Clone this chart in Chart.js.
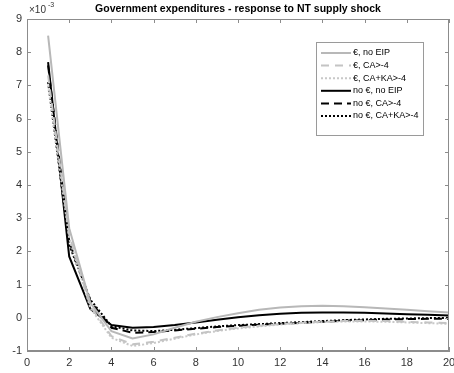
<!DOCTYPE html>
<html>
<head>
<meta charset="utf-8">
<script src="https://cdn.jsdelivr.net/npm/chart.js@4.4.0/dist/chart.umd.min.js"></script>
<style>
  html, body { margin: 0; padding: 0; background: #fff; }
  #wrap { width: 454px; height: 373px; }
</style>
</head>
<body>
<div id="wrap"><canvas id="c" width="454" height="373"></canvas></div>
<script>
// Government expenditures response (x 1e-3), periods 1..20
const periods = [1,2,3,4,5,6,7,8,9,10,11,12,13,14,15,16,17,18,19,20];

const euroNoEip   = [8.5, 2.7, 0.45, -0.4, -0.62, -0.5, -0.3, -0.12, 0.02, 0.14, 0.24, 0.31, 0.35, 0.36, 0.35, 0.32, 0.28, 0.24, 0.2, 0.16];
const euroCa      = [7.3, 2.5, 0.35, -0.55, -0.8, -0.72, -0.6, -0.48, -0.38, -0.3, -0.24, -0.19, -0.15, -0.12, -0.1, -0.09, -0.1, -0.12, -0.14, -0.16];
const euroCaKa    = [7.0, 2.4, 0.3, -0.6, -0.85, -0.76, -0.63, -0.5, -0.4, -0.32, -0.26, -0.2, -0.16, -0.13, -0.11, -0.11, -0.12, -0.14, -0.16, -0.18];
const noEuroNoEip = [7.7, 1.85, 0.27, -0.22, -0.3, -0.28, -0.22, -0.14, -0.06, 0.02, 0.08, 0.12, 0.15, 0.16, 0.16, 0.15, 0.13, 0.11, 0.09, 0.07];
const noEuroCa    = [7.6, 2.3, 0.5, -0.3, -0.45, -0.43, -0.38, -0.33, -0.28, -0.24, -0.21, -0.18, -0.15, -0.12, -0.09, -0.07, -0.05, -0.04, -0.03, -0.03];
const noEuroCaKa  = [7.1, 2.2, 0.55, -0.25, -0.38, -0.4, -0.36, -0.31, -0.26, -0.22, -0.19, -0.16, -0.13, -0.1, -0.07, -0.05, -0.03, -0.02, -0.01, 0.0];

const xTicks = [0,2,4,6,8,10,12,14,16,18,20];
const yTicks = [-1,0,1,2,3,4,5,6,7,8,9];

const FONT = '"Liberation Sans", Arial, Helvetica, sans-serif';
const AXIS_COLOR = '#8c8c8c';

function series(label, values, color, dash) {
    return {
        label: label,
        data: values.map((v, i) => ({ x: periods[i], y: v })),
        borderColor: color,
        borderWidth: 2,
        borderDash: dash,
        pointRadius: 0,
        tension: 0,
        fill: false
    };
}

const datasets = [
    series('€, no EIP', euroNoEip, '#b8b8b8', []),
    series('€, CA>-4', euroCa, '#c4c4c4', [8, 6]),
    series('€, CA+KA>-4', euroCaKa, '#c8c8c8', [2, 2]),
    series('no €, no EIP', noEuroNoEip, '#000000', []),
    series('no €, CA>-4', noEuroCa, '#000000', [8, 5]),
    series('no €, CA+KA>-4', noEuroCaKa, '#000000', [2, 2])
];

// box, inward ticks, title, exponent label and legend
const decorations = {
    id: 'decorations',
    afterDatasetsDraw(chart) {
        const ctx = chart.ctx;
        const a = chart.chartArea;
        const xs = chart.scales.x;
        const ys = chart.scales.y;
        ctx.save();

        ctx.strokeStyle = AXIS_COLOR;
        ctx.lineWidth = 1;
        ctx.setLineDash([]);
        ctx.strokeRect(a.left + 0.5, a.top + 0.5, a.right - a.left - 1, a.bottom - a.top - 1);

        ctx.beginPath();
        xTicks.forEach(t => {
            const px = Math.round(xs.getPixelForValue(t)) + 0.5;
            ctx.moveTo(px, a.bottom); ctx.lineTo(px, a.bottom - 4);
            ctx.moveTo(px, a.top); ctx.lineTo(px, a.top + 4);
        });
        yTicks.forEach(t => {
            const py = Math.round(ys.getPixelForValue(t)) + 0.5;
            ctx.moveTo(a.left, py); ctx.lineTo(a.left + 4, py);
            ctx.moveTo(a.right, py); ctx.lineTo(a.right - 4, py);
        });
        ctx.stroke();

        // title
        ctx.fillStyle = '#000';
        ctx.font = 'bold 10.5px ' + FONT;
        ctx.textAlign = 'center';
        ctx.textBaseline = 'middle';
        ctx.fillText('Government expenditures - response to NT supply shock', (a.left + a.right) / 2, 9);

        // exponent
        ctx.fillStyle = '#333';
        ctx.textAlign = 'left';
        ctx.font = '10px ' + FONT;
        ctx.fillText('×10', a.left + 2, 10);
        ctx.font = '7px ' + FONT;
        ctx.fillText('-3', a.left + 21, 5);

        // legend
        const lx = 316, ly = 42, lw = 107, lh = 93;
        ctx.fillStyle = '#fff';
        ctx.fillRect(lx, ly, lw, lh);
        ctx.strokeStyle = '#9a9a9a';
        ctx.strokeRect(lx + 0.5, ly + 0.5, lw, lh);
        ctx.font = '9px ' + FONT;
        ctx.textBaseline = 'middle';
        chart.data.datasets.forEach((ds, i) => {
            const y = ly + 11 + i * 12.6;
            ctx.strokeStyle = ds.borderColor;
            ctx.lineWidth = ds.borderWidth;
            ctx.setLineDash(ds.borderDash);
            ctx.beginPath();
            ctx.moveTo(lx + 5, y);
            ctx.lineTo(lx + 35, y);
            ctx.stroke();
            ctx.setLineDash([]);
            ctx.fillStyle = '#000';
            ctx.fillText(ds.label, lx + 37, y);
        });
        ctx.restore();
    }
};

new Chart(document.getElementById('c'), {
    type: 'line',
    data: { datasets: datasets },
    options: {
        responsive: false,
        animation: false,
        layout: { padding: { top: 19, right: 5, left: 0, bottom: 0 } },
        plugins: {
            legend: { display: false },
            title: { display: false },
            tooltip: { enabled: false }
        },
        scales: {
            x: {
                type: 'linear',
                min: 0,
                max: 20,
                afterFit: s => { s.height = 22; s.paddingLeft = 0; s.paddingRight = 0; },
                afterBuildTicks: s => { s.ticks = xTicks.map(v => ({ value: v })); },
                grid: { display: false, drawTicks: false },
                border: { display: true, color: AXIS_COLOR },
                ticks: { color: '#333', font: { family: FONT, size: 11 }, padding: 5, maxRotation: 0 }
            },
            y: {
                type: 'linear',
                min: -1,
                max: 9,
                afterFit: s => { s.width = 27; s.paddingTop = 0; s.paddingBottom = 0; },
                afterBuildTicks: s => { s.ticks = yTicks.map(v => ({ value: v })); },
                grid: { display: false, drawTicks: false },
                border: { display: true, color: AXIS_COLOR },
                ticks: { color: '#333', font: { family: FONT, size: 11 }, padding: 5 }
            }
        }
    },
    plugins: [decorations]
});
</script>
</body>
</html>
